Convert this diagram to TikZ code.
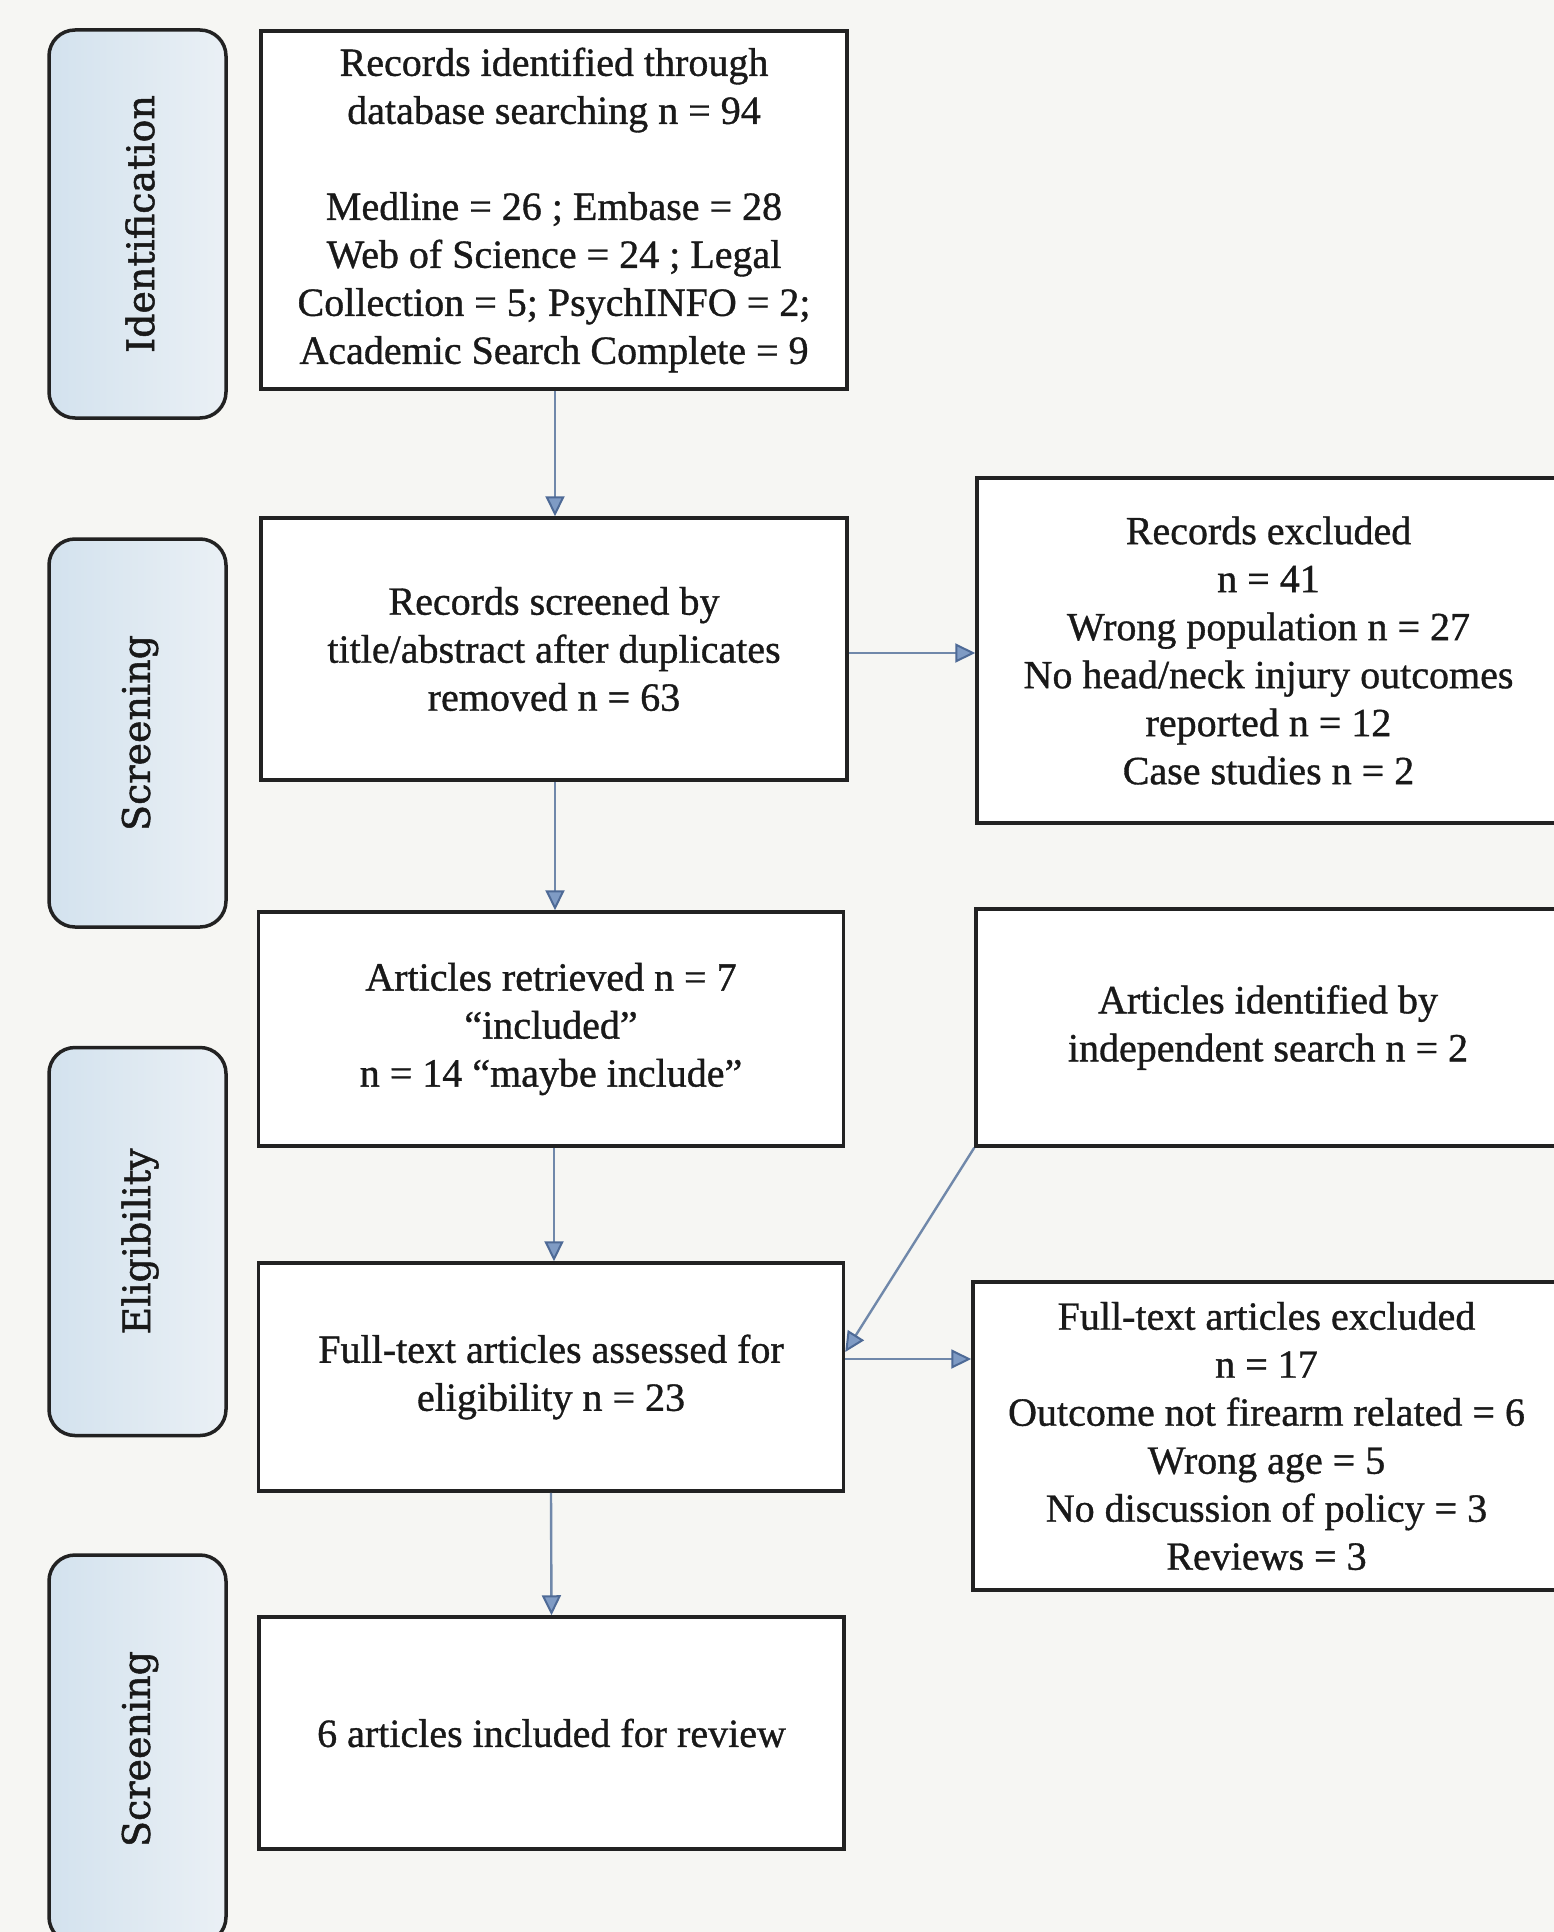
\documentclass[tikz,border=0pt]{standalone}
\usepackage{fontspec}
\setmainfont{Liberation Serif}[FakeBold=0.9]
\newfontfamily\sidefont{DejaVu Serif}[FakeBold=1.3]
\usetikzlibrary{arrows.meta,calc}
\definecolor{paper}{HTML}{F6F6F3}
\definecolor{boxline}{HTML}{222222}
\definecolor{arrline}{HTML}{7088AA}
\definecolor{arrfill}{HTML}{7F9BC4}
\definecolor{arrdraw}{HTML}{4E6A96}
\definecolor{sideL}{HTML}{D3E2EE}
\definecolor{sideR}{HTML}{EAF0F5}
\tikzset{
  mainbox/.style={draw=boxline, line width=3.5pt, fill=white, rectangle, inner sep=0pt,
     align=center, font=\fontsize{40}{48}\selectfont, text=black!90},
  sidebox/.style={draw=boxline, line width=3.5pt, rounded corners=26pt, left color=sideL, right color=sideR,
     inner sep=0pt, minimum width=177pt, minimum height=388pt},
  sidelabel/.style={rotate=90, font=\sidefont\fontsize{38}{44}\selectfont, text=black!90},
  flow/.style={draw=arrline, line width=2.4pt,
     -{Triangle[length=20pt,width=19pt,fill=arrfill,color=arrdraw,line width=2pt]}}
}
\begin{document}
\begin{tikzpicture}[x=1pt,y=-1pt]
\useasboundingbox (0,0) rectangle (1554,1932);
\clip (0,0) rectangle (1554,1932);
\fill[paper] (0,0) rectangle (1554,1932);

% side phase boxes
\node[sidebox] (s1) at (137.5,224) {};
\node[sidelabel] (s1t) at (140,224) {Identification};
\node[sidebox] (s2) at (137.5,733) {};
\node[sidelabel] (s2t) at (140,733) {Screening};
\node[sidebox] (s3) at (137.5,1241.5) {};
\node[sidelabel] (s3t) at (140,1241.5) {Eligibility};
\node[sidebox] (s4) at (137.5,1749) {};
\node[sidelabel] (s4t) at (140,1749) {Screening};

% main column
\node[mainbox, minimum width=586pt, minimum height=358pt] (b1) at (554,210)
 {Records identified through\\database searching n = 94\\[48pt]Medline = 26 ; Embase = 28\\Web of Science = 24 ; Legal\\Collection = 5; PsychINFO = 2;\\Academic Search Complete = 9};
\node[mainbox, minimum width=586pt, minimum height=262pt] (b2) at (554,649)
 {Records screened by\\title/abstract after duplicates\\removed n = 63};
\node[mainbox, minimum width=585pt, minimum height=234pt] (b3) at (551,1029)
 {Articles retrieved n = 7\\“included”\\n = 14 “maybe include”};
\node[mainbox, minimum width=585pt, minimum height=228pt] (b4) at (551,1377)
 {Full-text articles assessed for\\eligibility n = 23};
\node[mainbox, minimum width=585pt, minimum height=232pt] (b5) at (551.5,1733)
 {6 articles included for review};

% right column
\node[mainbox, minimum width=583pt, minimum height=345pt] (r1) at (1268.5,650.5)
 {Records excluded\\n = 41\\Wrong population n = 27\\No head/neck injury outcomes\\reported n = 12\\Case studies n = 2};
\node[mainbox, minimum width=584pt, minimum height=237pt] (r2) at (1268,1027.5)
 {Articles identified by\\independent search n = 2};
\node[mainbox, minimum width=587pt, minimum height=308pt] (r3) at (1266.5,1436)
 {Full-text articles excluded\\n = 17\\Outcome not firearm related = 6\\Wrong age = 5\\No discussion of policy = 3\\Reviews = 3};

% connectors
\draw[flow] (b1.south -| 555,0) -- (b2.north -| 555,0);
\draw[flow] (b2.south -| 555,0) -- (b3.north -| 555,0);
\draw[flow] (b3.south -| 554,0) -- (b4.north -| 554,0);
\draw[flow] (b4.south) -- (b5.north);
\draw[flow] (b2.east |- 0,653) -- (r1.west |- 0,653);
\draw[flow] (r2.south west) -- (b4.east |- 0,1352);
\draw[flow] (b4.east |- 0,1359) -- (r3.west |- 0,1359);
\end{tikzpicture}
\end{document}
